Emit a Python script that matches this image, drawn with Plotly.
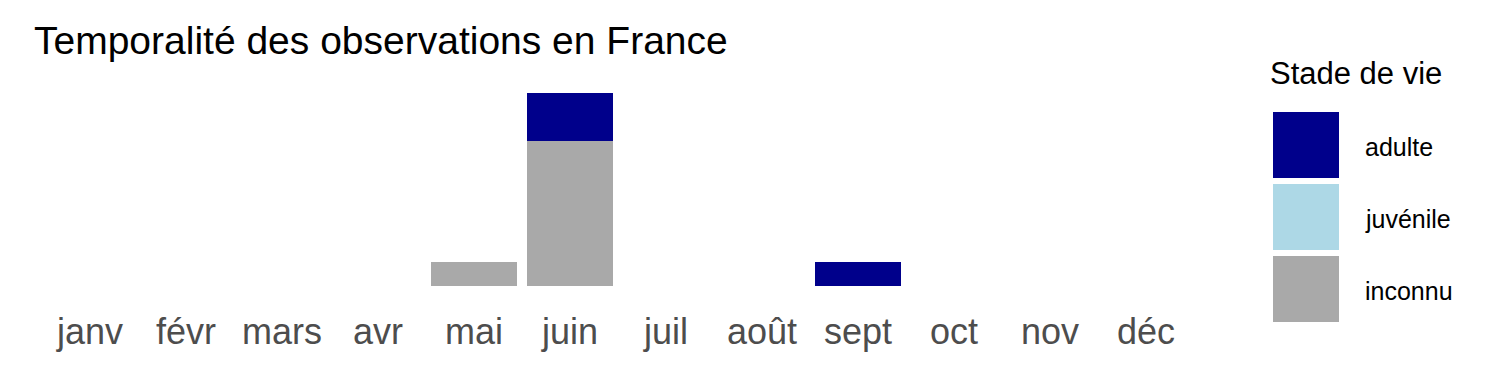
import plotly.graph_objects as go

months = ["janv", "févr", "mars", "avr", "mai", "juin", "juil", "août", "sept", "oct", "nov", "déc"]
adulte = [0, 0, 0, 0, 0, 2, 0, 0, 1, 0, 0, 0]
juvenile = [0, 0, 0, 0, 0, 0, 0, 0, 0, 0, 0, 0]
inconnu = [0, 0, 0, 0, 1, 6, 0, 0, 0, 0, 0, 0]
stages = ["adulte", "juvénile", "inconnu"]
colors = {"adulte": "#00008B", "juvénile": "#ADD8E6", "inconnu": "#A9A9A9"}

W, H = 1500, 375
L, R, T, B = 42, 1194, 93, 286  # plot area in pixels

fig = go.Figure()
for name, vals in [("inconnu", inconnu), ("juvénile", juvenile), ("adulte", adulte)]:
    fig.add_trace(go.Bar(x=months, y=vals, name=name, marker_color=colors[name],
                         marker_line_width=0, width=0.9, showlegend=False))

def px(x):
    return (x - L) / (R - L)

def py(y):
    return (B - y) / (B - T)

shapes = []
annotations = []
key_tops = [112, 184, 256]
for stage, top in zip(stages, key_tops):
    shapes.append(dict(type="rect", xref="paper", yref="paper",
                       x0=px(1273), x1=px(1339), y0=py(top + 66), y1=py(top),
                       fillcolor=colors[stage], line_width=0, layer="above"))
    annotations.append(dict(text=stage, xref="paper", yref="paper",
                            x=px(1363), y=py(top + 35), xanchor="left", yanchor="middle",
                            showarrow=False, font=dict(size=25, color="black",
                                                       family="Liberation Sans, Arial")))
annotations.append(dict(text="Stade de vie", xref="paper", yref="paper",
                        x=px(1268), y=py(73), xanchor="left", yanchor="middle",
                        showarrow=False, font=dict(size=31, color="black",
                                                   family="Liberation Sans, Arial")))

fig.update_layout(
    width=W, height=H,
    barmode="stack",
    plot_bgcolor="white", paper_bgcolor="white",
    margin=dict(l=L, r=W - R, t=T, b=H - B),
    title=dict(text="Temporalité des observations en France", xref="container", yref="container",
               x=34 / W, y=1 - 40 / H, xanchor="left", yanchor="middle",
               font=dict(size=39, color="black", family="Liberation Sans, Arial")),
    xaxis=dict(showgrid=False, zeroline=False, showline=False, ticks="",
               tickfont=dict(size=36, color="#4D4D4D", family="Liberation Sans, Arial"),
               ticklabelstandoff=21, range=[-0.5, 11.5]),
    yaxis=dict(visible=False, range=[0, 8]),
    shapes=shapes, annotations=annotations,
    font=dict(family="Liberation Sans, Arial"),
)

fig.write_html("out.html")
